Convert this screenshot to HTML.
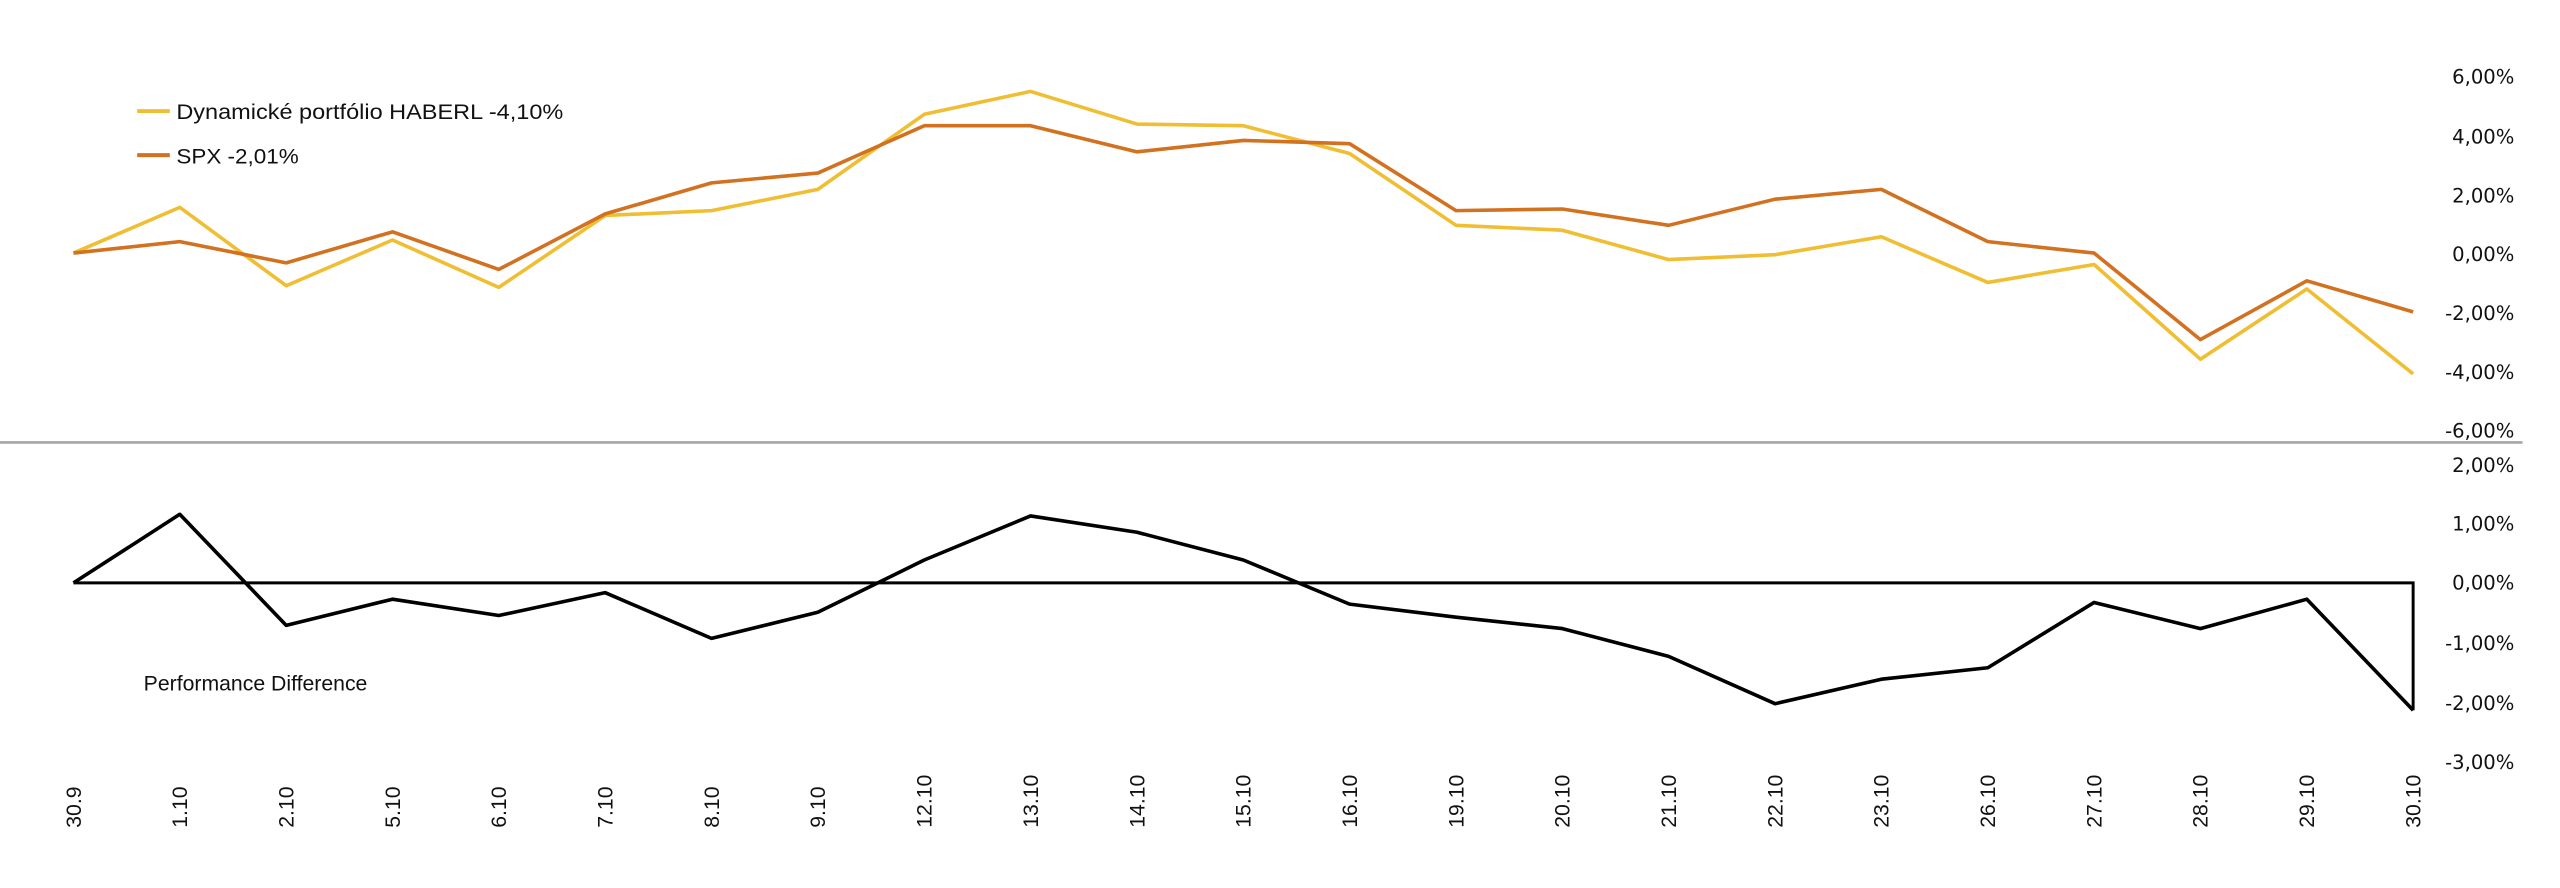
<!DOCTYPE html>
<html><head><meta charset="utf-8"><style>
html,body{margin:0;padding:0;background:#fff;width:2560px;height:888px;overflow:hidden}
</style></head><body>
<svg width="2560" height="888" viewBox="0 0 2560 888" xmlns="http://www.w3.org/2000/svg">
<g transform="scale(1.6327)">
<line x1="0" y1="271" x2="1545" y2="271" stroke="#a6a6a6" stroke-width="1.6"/>
<polyline fill="none" stroke="#f0be32" stroke-width="2.2" stroke-linejoin="round" points="45,155 110.1,127 175.3,175 240.4,147 305.5,176 370.7,132 435.8,129 500.9,116 566.1,70 631.2,56 696.4,76 761.5,77 826.6,94 891.8,138 956.9,141 1022,159 1087.2,156 1152.3,145 1217.5,173 1282.6,162 1347.7,220 1412.9,177 1478,229"/>
<polyline fill="none" stroke="#d2711f" stroke-width="2.2" stroke-linejoin="round" points="45,155 110.1,148 175.3,161 240.4,142 305.5,165 370.7,131 435.8,112 500.9,106 566.1,77 631.2,77 696.4,93 761.5,86 826.6,88 891.8,129 956.9,128 1022,138 1087.2,122 1152.3,116 1217.5,148 1282.6,155 1347.7,208 1412.9,172 1478,191"/>
<polyline fill="none" stroke="#000" stroke-width="1.8" points="45,357 1478,357 1478,435"/>
<polyline fill="none" stroke="#000" stroke-width="2.2" stroke-linejoin="round" points="45,357 110.1,315 175.3,383 240.4,367 305.5,377 370.7,363 435.8,391 500.9,375 566.1,343 631.2,316 696.4,326 761.5,343 826.6,370 891.8,378 956.9,385 1022,402 1087.2,431 1152.3,416 1217.5,409 1282.6,369 1347.7,385 1412.9,367 1478,435"/>
<line x1="84" y1="68" x2="104" y2="68" stroke="#f0be32" stroke-width="2.4"/>
<line x1="84" y1="95" x2="104" y2="95" stroke="#d2711f" stroke-width="2.4"/>
<g font-family="Liberation Sans, sans-serif" font-size="13" fill="#111">
<text x="108" y="73" textLength="237" lengthAdjust="spacingAndGlyphs">Dynamické portfólio  HABERL -4,10%</text>
<text x="108" y="100" textLength="75" lengthAdjust="spacingAndGlyphs">SPX -2,01%</text>
<text x="88" y="423">Performance  Difference</text>
</g>
<g font-family="DejaVu Sans, sans-serif" font-size="12" fill="#111" text-anchor="end">
<text x="1540" y="51">6,00%</text><text x="1540" y="88">4,00%</text><text x="1540" y="124">2,00%</text><text x="1540" y="160">0,00%</text><text x="1540" y="196">-2,00%</text><text x="1540" y="232">-4,00%</text><text x="1540" y="268">-6,00%</text>
<text x="1540" y="289">2,00%</text><text x="1540" y="325">1,00%</text><text x="1540" y="361">0,00%</text><text x="1540" y="398">-1,00%</text><text x="1540" y="435">-2,00%</text><text x="1540" y="471">-3,00%</text>
</g>
<g font-family="Liberation Sans Narrow, Liberation Sans, sans-serif" font-size="13" fill="#111" text-anchor="start">
<text transform="translate(49.5,507) rotate(-90)">30.9</text>
<text transform="translate(114.6,507) rotate(-90)">1.10</text>
<text transform="translate(179.8,507) rotate(-90)">2.10</text>
<text transform="translate(244.9,507) rotate(-90)">5.10</text>
<text transform="translate(310,507) rotate(-90)">6.10</text>
<text transform="translate(375.2,507) rotate(-90)">7.10</text>
<text transform="translate(440.3,507) rotate(-90)">8.10</text>
<text transform="translate(505.4,507) rotate(-90)">9.10</text>
<text transform="translate(570.6,507) rotate(-90)">12.10</text>
<text transform="translate(635.7,507) rotate(-90)">13.10</text>
<text transform="translate(700.9,507) rotate(-90)">14.10</text>
<text transform="translate(766,507) rotate(-90)">15.10</text>
<text transform="translate(831.1,507) rotate(-90)">16.10</text>
<text transform="translate(896.3,507) rotate(-90)">19.10</text>
<text transform="translate(961.4,507) rotate(-90)">20.10</text>
<text transform="translate(1026.5,507) rotate(-90)">21.10</text>
<text transform="translate(1091.7,507) rotate(-90)">22.10</text>
<text transform="translate(1156.8,507) rotate(-90)">23.10</text>
<text transform="translate(1222,507) rotate(-90)">26.10</text>
<text transform="translate(1287.1,507) rotate(-90)">27.10</text>
<text transform="translate(1352.2,507) rotate(-90)">28.10</text>
<text transform="translate(1417.4,507) rotate(-90)">29.10</text>
<text transform="translate(1482.5,507) rotate(-90)">30.10</text>
</g>
</g>
</svg>
</body></html>
